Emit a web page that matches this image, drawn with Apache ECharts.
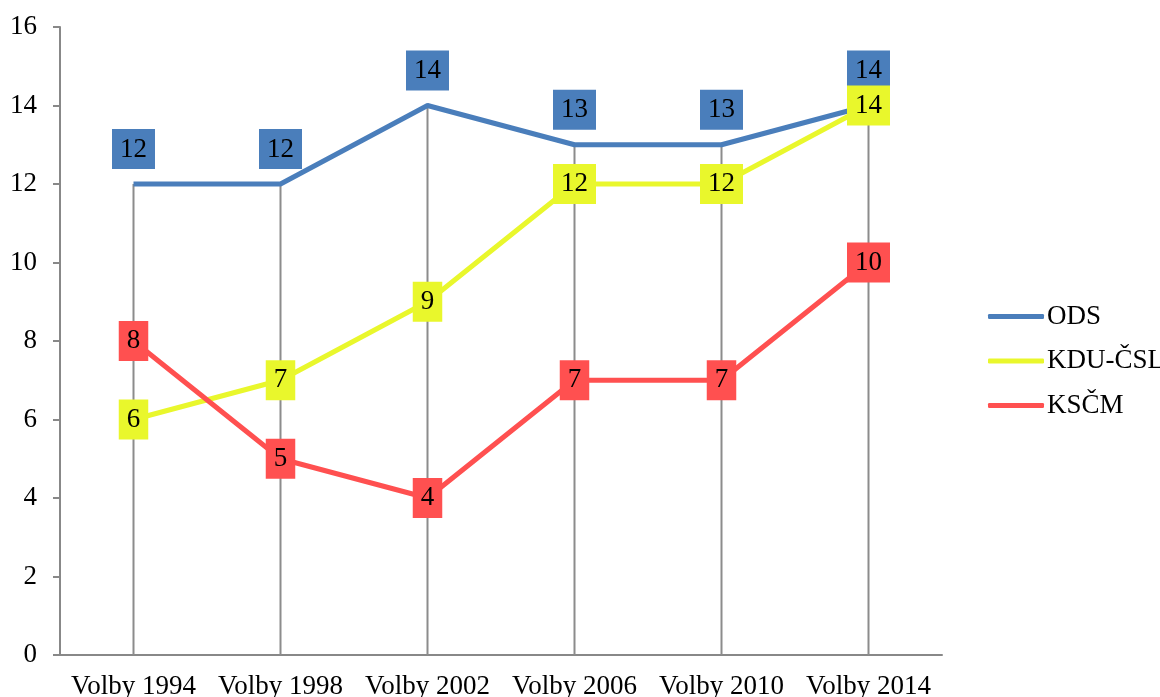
<!DOCTYPE html>
<html>
<head>
<meta charset="utf-8">
<script src="https://cdn.jsdelivr.net/npm/echarts@6/dist/echarts.min.js"></script>
<style>
  html, body { margin: 0; padding: 0; background: #fff; }
  #chart { width: 1160px; height: 697px; }
</style>
</head>
<body>
<div id="chart"></div>
<script>
var categories = ['Volby 1994', 'Volby 1998', 'Volby 2002', 'Volby 2006', 'Volby 2010', 'Volby 2014'];
var ods = [12, 12, 14, 13, 13, 14];
var kdu = [6, 7, 9, 12, 12, 14];
var kscm = [8, 5, 4, 7, 7, 10];

// drop lines reach up to the highest point in each column
var dropLines = categories.map(function (c, i) {
    return Math.max(ods[i], kdu[i], kscm[i]);
});

var font = '"Liberation Serif", "Times New Roman", serif';

function boxLabel(color, pos, dist) {
    return {
        show: true,
        position: pos,
        distance: dist,
        fontFamily: font,
        fontSize: 27,
        lineHeight: 27,
        color: '#000',
        backgroundColor: color,
        padding: [7, 8, 6, 8]
    };
}

function lineSeries(name, data, color, pos, dist, z) {
    return {
        name: name,
        type: 'line',
        data: data,
        symbol: 'circle',
        symbolSize: 0.1,
        z: z,
        lineStyle: { color: color, width: 5 },
        itemStyle: { color: color },
        label: boxLabel(color, pos, dist)
    };
}

var chart = echarts.init(document.getElementById('chart'));
chart.setOption({
    animation: false,
    grid: { left: 60, right: 218, top: 27, bottom: 42, containLabel: false, outerBoundsMode: 'none' },
    legend: {
        orient: 'vertical',
        left: 983,
        top: 298,
        icon: 'roundRect',
        itemWidth: 56,
        itemHeight: 5,
        itemGap: 17.5,
        data: ['ODS', 'KDU-ČSL', 'KSČM'],
        textStyle: { fontFamily: font, fontSize: 27, lineHeight: 27, color: '#000', padding: [0, 0, 0, -2] }
    },
    xAxis: {
        type: 'category',
        data: categories,
        boundaryGap: true,
        axisLine: { lineStyle: { color: '#888', width: 2 } },
        axisTick: { show: false },
        axisLabel: { fontFamily: font, fontSize: 27, color: '#000', margin: 18, interval: 0 }
    },
    yAxis: {
        type: 'value',
        min: 0,
        max: 16,
        interval: 2,
        axisLine: { show: true, lineStyle: { color: '#888', width: 2 } },
        axisTick: { show: true, length: 7, lineStyle: { color: '#888', width: 2 } },
        splitLine: { show: false },
        axisLabel: { fontFamily: font, fontSize: 27, color: '#000', margin: 23 }
    },
    series: [
        {
            name: 'drop',
            type: 'bar',
            data: dropLines,
            barWidth: 2,
            z: 1,
            itemStyle: { color: '#8c8c8c' },
            silent: true
        },
        lineSeries('ODS', ods, '#4a7ebb', 'top', 15, 3),
        lineSeries('KDU-ČSL', kdu, '#e9f72c', 'inside', 0, 4),
        lineSeries('KSČM', kscm, '#ff5050', 'inside', 0, 5)
    ]
});
</script>
</body>
</html>
